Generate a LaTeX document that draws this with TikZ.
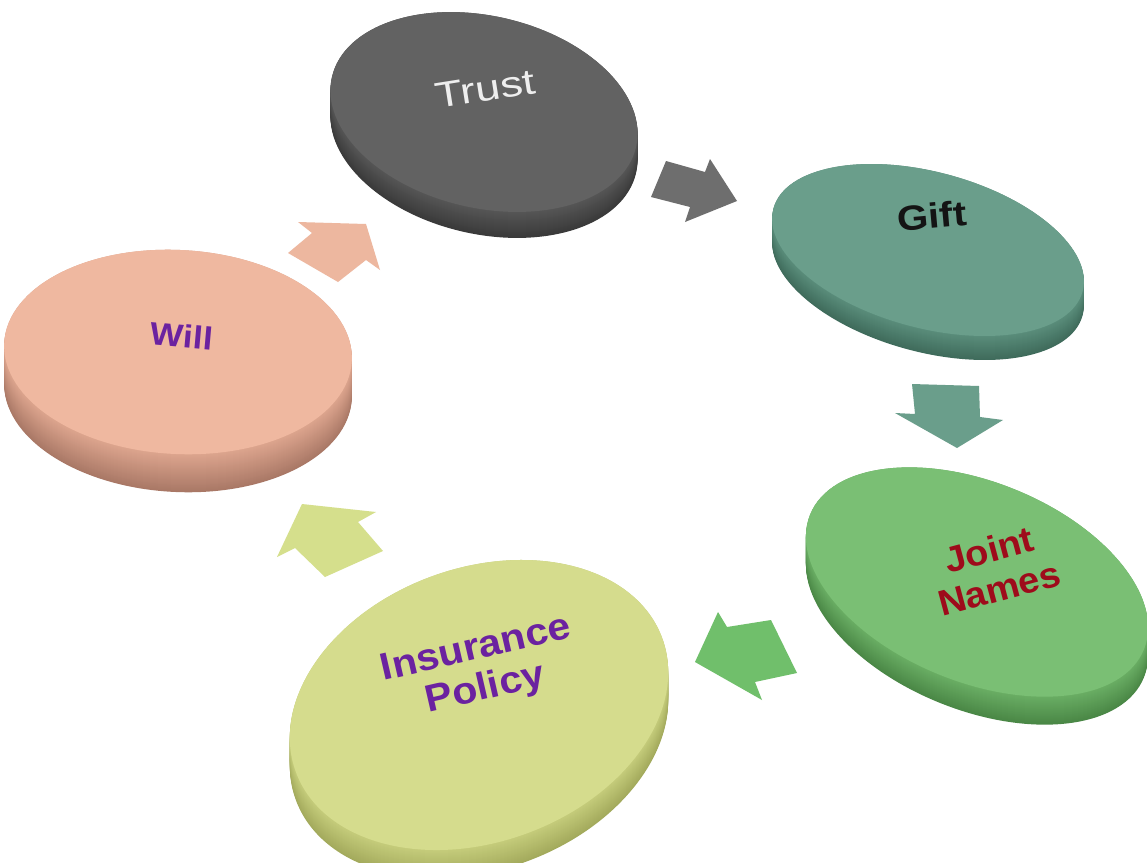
\documentclass[tikz,border=0pt]{standalone}
\usepackage{fontspec}
\setmainfont{Liberation Sans}
\definecolor{trustface}{HTML}{626262}
\definecolor{trustsidetop}{HTML}{565656}
\definecolor{trustsidebot}{HTML}{3a3a3a}
\definecolor{giftface}{HTML}{6A9E8B}
\definecolor{giftsidetop}{HTML}{5A8D7B}
\definecolor{giftsidebot}{HTML}{3F6B5B}
\definecolor{jointface}{HTML}{7ABF74}
\definecolor{jointsidetop}{HTML}{6AAE64}
\definecolor{jointsidebot}{HTML}{4A8746}
\definecolor{insface}{HTML}{D5DC8D}
\definecolor{inssidetop}{HTML}{C5CC7B}
\definecolor{inssidebot}{HTML}{A3AA5C}
\definecolor{willface}{HTML}{EFB8A0}
\definecolor{willsidetop}{HTML}{DDA58E}
\definecolor{willsidebot}{HTML}{A97866}
\definecolor{arrgray}{HTML}{6E6E6E}
\definecolor{arrteal}{HTML}{6A9E8B}
\definecolor{arrgreen}{HTML}{70BF6B}
\definecolor{arrlime}{HTML}{D5DF8C}
\definecolor{arrsalmon}{HTML}{EDB79F}
\definecolor{trusttext}{HTML}{EEEEEE}
\definecolor{gifttext}{HTML}{141414}
\definecolor{jointtext}{HTML}{9E0B1B}
\definecolor{purpletext}{HTML}{6B22A0}
% #1 cx, #2 cy, #3 a, #4 b, #5 rotation, #6 thickness, #7 face, #8 side bottom, #9 side top
\newcommand{\mydisk}[9]{%
  \foreach \k in {0,...,#6}{%
    \pgfmathtruncatemacro{\pc}{100*(#6-\k)/#6}%
    \fill[#8!\pc!#9, rotate around={#5:(#1,#2+#6-\k)}] (#1,#2+#6-\k) ellipse [x radius=#3pt, y radius=#4pt];
  }%
  \fill[#7, rotate around={#5:(#1,#2)}] (#1,#2) ellipse [x radius=#3pt, y radius=#4pt];
}
\tikzset{
  lbl/.style={inner sep=0pt, align=center},
  blockarrow/.style={line join=miter}
}
\begin{document}
\begin{tikzpicture}[x=1pt,y=-1pt]
\fill[white] (0,0) rectangle (1147,862);
\useasboundingbox (0,0) rectangle (1147,862);
% discs
\mydisk{484}{112}{156}{96}{-13}{26}{trustface}{trustsidebot}{trustsidetop}
\mydisk{928}{250}{160}{78}{-15}{24}{giftface}{giftsidebot}{giftsidetop}
\mydisk{977}{582}{180}{100}{-22}{28}{jointface}{jointsidebot}{jointsidetop}
\mydisk{479}{705}{195}{137}{20}{28}{insface}{inssidebot}{inssidetop}
\mydisk{178}{352}{174}{102}{-3}{38}{willface}{willsidebot}{willsidetop}
% block arrows
\fill[arrgray, blockarrow] (666,161) -- (705,172) -- (710,159) -- (737,201) -- (685,222) -- (690,207) -- (651,197) -- cycle;
\fill[arrteal, blockarrow] (912,384) -- (979,386) -- (980,417) -- (1003,420) -- (957,448) -- (895,413) -- (915,414) -- cycle;
\fill[arrgreen, blockarrow] (718,612) -- (727,627) -- (771,620) -- (797,673) -- (755,682) -- (762,700) -- (695,662) -- cycle;
\fill[arrlime, blockarrow] (302,504) -- (376,512) -- (358,522) -- (383,551) -- (325,577) -- (295,548) -- (277,557) -- cycle;
\fill[arrsalmon, blockarrow] (298,222) -- (366,224) -- (380,270) -- (366,260) -- (338,282) -- (288,253) -- (312,233) -- cycle;
% labels
\node[lbl, font=\fontsize{36}{40}\selectfont, text=trusttext, rotate=9, xscale=1.25] (trust) at (485,89) {Trust};
\node[lbl, font=\bfseries\fontsize{35}{38}\selectfont, text=gifttext, rotate=5, xscale=1.15] (gift) at (932,216) {Gift};
\node[lbl, font=\bfseries\fontsize{36}{40}\selectfont, text=jointtext, rotate=15, xscale=1.06] (joint) at (994,569) {Joint\\Names};
\node[lbl, font=\bfseries\fontsize{38}{41}\selectfont, text=purpletext, rotate=13, xscale=1.08] (ins) at (481,670) {Insurance\\Policy};
\node[lbl, font=\bfseries\fontsize{32}{36}\selectfont, text=purpletext, rotate=-5, xscale=1.1] (will) at (182,336) {Will};
\end{tikzpicture}
\end{document}
